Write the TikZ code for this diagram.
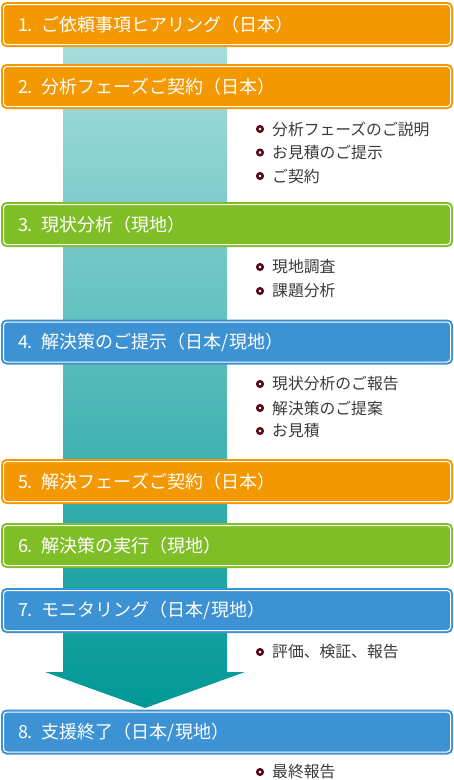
\documentclass[tikz,border=0pt]{standalone}
\usepackage{fontspec}
\setmainfont{Noto Sans CJK JP}
\definecolor{cor}{HTML}{F39800}
\definecolor{cgr}{HTML}{80BE28}
\definecolor{cbl}{HTML}{3D92D4}
\definecolor{shtop}{HTML}{ACDFDF}
\definecolor{shbot}{HTML}{009896}
\definecolor{maroon}{HTML}{5A0A18}
\definecolor{txtgray}{HTML}{3A3A3A}
\tikzset{
  stepbox/.style={rectangle, rounded corners=3.5pt, minimum height=40pt,
    text width=418pt, inner xsep=14.5pt, inner ysep=0pt, align=left,
    draw=white, line width=1pt, text=white,
    font=\fontsize{18}{21}\selectfont,
    preaction={draw=#1, line width=5pt}, fill=#1},
  item/.style={anchor=west, inner sep=0pt, text=txtgray,
    font=\fontsize{15.8}{18}\selectfont},
  dot/.style={circle, draw=maroon, line width=2.5pt, fill=white,
    minimum size=5.5pt, inner sep=0pt}
}
\begin{document}
\begin{tikzpicture}[x=1pt,y=-1pt]
\useasboundingbox (0,0) rectangle (454,780);
\shade[top color=shtop, bottom color=shbot]
  (63,24) -- (227,24) -- (227,672) -- (245,672) -- (145,708) -- (45,672) -- (63,672) -- cycle;

\node[stepbox=cor] (b1) at (227,24.5) {1. ご依頼事項ヒアリング（日本）};
\node[stepbox=cor] (b2) at (227,86.5) {2. 分析フェーズご契約（日本）};
\node[stepbox=cgr] (b3) at (227,224.5) {3. 現状分析（現地）};
\node[stepbox=cbl] (b4) at (227,342) {4. 解決策のご提示（日本/現地）};
\node[stepbox=cor] (b5) at (227,481.5) {5. 解決フェーズご契約（日本）};
\node[stepbox=cgr] (b6) at (227,545.5) {6. 解決策の実行（現地）};
\node[stepbox=cbl] (b7) at (227,610.5) {7. モニタリング（日本/現地）};
\node[stepbox=cbl] (b8) at (227,732) {8. 支援終了（日本/現地）};

\foreach \n/\y/\t in {
  a1/129/分析フェーズのご説明, a2/152.5/お見積のご提示, a3/176/ご契約,
  c1/267/現地調査, c2/291/課題分析,
  d1/384/現状分析のご報告, d2/408/解決策のご提案, d3/431/お見積,
  g1/652/評価、検証、報告,
  h1/772/最終報告}{
  \node[dot] (dot\n) at (260,\y) {};
  \node[item] (txt\n) at (272,\y) {\t};
}
\end{tikzpicture}
\end{document}
